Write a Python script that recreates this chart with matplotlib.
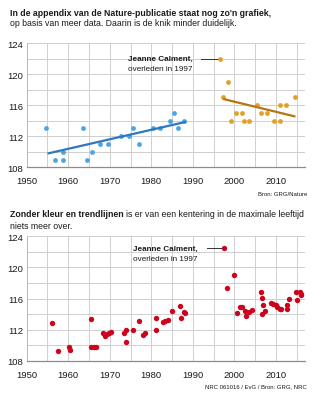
import numpy as np
import matplotlib
matplotlib.use("Agg")
import matplotlib.pyplot as plt
from matplotlib.ticker import MultipleLocator

plt.rcParams['font.family'] = ['Liberation Sans', 'DejaVu Sans']

# ---- data: top chart (Nature appendix) ----
blue_years = [1954.6, 1956.8, 1958.7, 1958.7, 1963.6, 1964.4, 1965.8, 1967.6, 1969.6,
              1972.7, 1974.7, 1975.6, 1977.1, 1980.4, 1982.2, 1984.6, 1985.5, 1986.4, 1987.8]
blue_ages = [113, 109, 109, 110, 113, 109, 110, 111, 111,
             112, 112, 113, 111, 113, 113, 114, 115, 113, 114]

orange_years = [1996.6, 1997.3, 1998.4, 1999.1, 2000.3, 2001.8, 2002.2, 2003.5, 2005.5,
                2006.5, 2007.9, 2009.5, 2010.9, 2011.1, 2012.5, 2014.7]
orange_ages = [122, 117, 119, 114, 115, 115, 114, 114, 116,
               115, 115, 114, 114, 116, 116, 117]

# ---- data: bottom chart (GRG / NRC) ----
red_years = [1956.2, 1957.6, 1960.2, 1960.4, 1965.4, 1965.6, 1966.2, 1966.7,
             1968.4, 1968.8, 1969.4, 1969.9, 1970.3, 1973.4, 1973.9, 1974.0,
             1975.6, 1977.1, 1978.0, 1978.4, 1981.2, 1981.2, 1982.8, 1983.4, 1984.0,
             1985.1, 1986.8, 1987.1, 1987.9, 1988.1,
             1997.5, 1998.2, 1999.8, 2000.7, 2001.3, 2001.9, 2002.5, 2002.9, 2003.5, 2004.2,
             2006.5, 2006.7, 2006.9, 2006.7, 2007.3, 2008.7, 2009.3, 2009.9, 2010.3, 2010.9,
             2011.3, 2012.6, 2012.6, 2013.1, 2014.9, 2015.7, 2016.1, 2015.1, 2016.1]
red_ages = [112.9, 109.3, 109.7, 109.4, 113.4, 109.7, 109.8, 109.8,
            111.5, 111.2, 111.4, 111.5, 111.7, 111.5, 111.9, 110.4,
            111.9, 113.1, 111.3, 111.5, 113.5, 112.0, 113.0, 113.1, 113.2,
            114.4, 115.0, 113.5, 114.3, 114.1,
            122.45, 117.4, 119.0, 114.1, 114.9, 114.9, 114.4, 113.7, 114.3, 114.5,
            116.8, 116.1, 115.2, 114.0, 114.4, 115.4, 115.3, 115.1, 114.9, 114.6,
            114.7, 115.1, 114.6, 115.9, 116.9, 116.8, 116.6, 115.8, 116.4]

x_ticks = [1950, 1960, 1970, 1980, 1990, 2000, 2010]
y_ticks = [108, 112, 116, 120, 124]

calment_year_top, calment_age_top = 1996.6, 122
calment_year_bot, calment_age_bot = 1997.5, 122.45

W, H = 322, 402
fig = plt.figure(figsize=(W / 100, H / 100), dpi=100)
fig.patch.set_facecolor('white')

def fx(px):
    return px / W

def fy(py):
    return 1 - py / H

left, right = 26.7, 305
ax1 = fig.add_axes([fx(left), fy(168.3), fx(right) - fx(left), fy(44) - fy(168.3)])
ax2 = fig.add_axes([fx(left), fy(361.7), fx(right) - fx(left), fy(237.3) - fy(361.7)])

TXT = '#1a1a1a'
for ax in (ax1, ax2):
    ax.set_xlim(1950, 2017)
    ax.set_ylim(108, 124)
    ax.set_xticks(x_ticks)
    ax.set_yticks(y_ticks)
    ax.xaxis.set_minor_locator(MultipleLocator(5))
    ax.yaxis.set_minor_locator(MultipleLocator(2))
    ax.grid(which='both', color='#cfcfcf', lw=0.7)
    ax.set_axisbelow(True)
    ax.tick_params(which='both', length=0, labelsize=6.8, colors=TXT)
    ax.tick_params(axis='x', pad=6.5)
    ax.tick_params(axis='y', pad=2.5)
    for s in ('top', 'right'):
        ax.spines[s].set_visible(False)
    ax.spines['left'].set_color('#b8b8b8')
    ax.spines['left'].set_linewidth(0.7)
    ax.spines['bottom'].set_color('#8c8c8c')
    ax.spines['bottom'].set_linewidth(0.9)

# top chart
bx = np.array(blue_years); by = np.array(blue_ages)
ox = np.array(orange_years); oy = np.array(orange_ages)
ax1.scatter(bx, by, s=12, color='#4ea3e3', zorder=3, lw=0)
ax1.scatter(ox, oy, s=12, color='#e2a125', zorder=3, lw=0)
pb = np.polyfit(bx, by, 1)
xb = np.array([bx.min() + 0.4, bx.max() + 0.6])
ax1.plot(xb, np.polyval(pb, xb), color='#2f78bf', lw=1.6, zorder=4, solid_capstyle='butt')
po = np.polyfit(ox, oy, 1)
xo = np.array([ox[1], ox.max()])
ax1.plot(xo, np.polyval(po, xo), color='#b9740e', lw=1.6, zorder=4, solid_capstyle='butt')

# bottom chart
ax2.scatter(red_years, red_ages, s=15, color='#d0021b', zorder=3, lw=0)

# annotations
def annotate(ax, yr, age, tx_left, line_start):
    ax.plot([line_start, yr - 0.6], [age, age], color='#333333', lw=0.7, zorder=2)
    ax.text(tx_left, age, 'Jeanne Calment,', ha='left', va='center',
            fontsize=5.9, fontweight='bold', color=TXT)
    ax.text(tx_left, age - 1.25, 'overleden in 1997', ha='left', va='center',
            fontsize=5.9, color=TXT)

annotate(ax1, calment_year_top, calment_age_top, 1974.4, 1992.0)
annotate(ax2, calment_year_bot, calment_age_bot, 1975.6, 1993.3)

# titles
fig.text(fx(10), fy(13), "In de appendix van de Nature-publicatie staat nog zo'n grafiek,",
         fontsize=6.3, fontweight='bold', color=TXT, va='center')
fig.text(fx(10), fy(24), "op basis van meer data. Daarin is de knik minder duidelijk.",
         fontsize=6.3, color=TXT, va='center')
fig.text(fx(307), fy(195), "Bron: GRG/Nature", fontsize=4.3, color=TXT, ha='right', va='center')

t1 = fig.text(fx(10), fy(215), "Zonder kleur en trendlijnen", fontsize=6.3,
              fontweight='bold', color=TXT, va='center')
fig.canvas.draw()
bb = t1.get_window_extent()
fig.text(bb.x1 / W + 0.006, fy(215), "is er van een kentering in de maximale leeftijd",
         fontsize=6.3, color=TXT, va='center')
fig.text(fx(10), fy(227), "niets meer over.", fontsize=6.3, color=TXT, va='center')
fig.text(fx(307), fy(387), "NRC 061016 / EvG / Bron: GRG, NRC", fontsize=4.3,
         color=TXT, ha='right', va='center')

fig.savefig('out.png', dpi=100, facecolor='white')
